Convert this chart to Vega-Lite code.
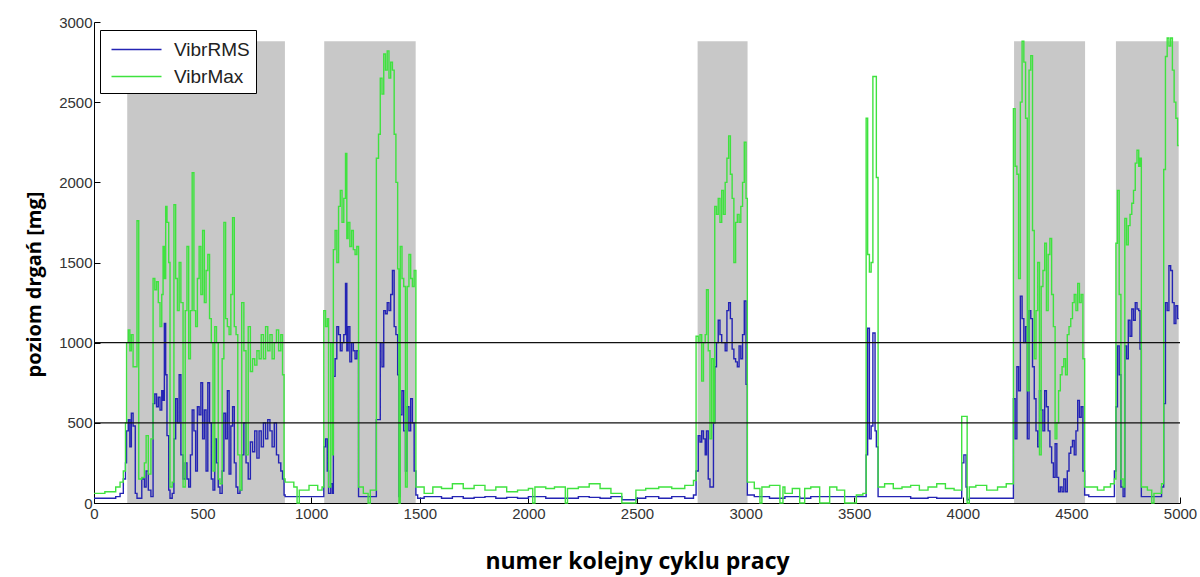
{
"$schema":"https://vega.github.io/schema/vega-lite/v6.json",
"width":1086,"height":481,
"autosize":"none",
"padding":{"left":94,"top":22,"right":20,"bottom":74},
"background":"white",
"config":{"view":{"stroke":null},"font":"Liberation Sans",
 "axis":{"grid":false,"domainColor":"#000","domainWidth":1,"tickColor":"#000","tickSize":-6,"labelFontSize":15,"labelColor":"#333","titleFont":"Open Sans","titleFontWeight":"bold","titleFontSize":20,"titleColor":"#000","format":"d"}},
"datasets":{
"bands":[{"start":153,"end":879},{"start":1060,"end":1481},{"start":2779,"end":3009},{"start":4236,"end":4563},{"start":4705,"end":4994}],
"limits":[{"level":500},{"level":1000}],
"vib":[
{"c":0,"rms":30,"max":60},{"c":50,"rms":30,"max":70},{"c":100,"rms":40,"max":100},{"c":120,"rms":60,"max":130},{"c":135,"rms":150,"max":200},{"c":145,"rms":250,"max":500},
{"c":150,"rms":450,"max":1000},{"c":158,"rms":520,"max":1080},{"c":165,"rms":350,"max":950},{"c":172,"rms":560,"max":1050},{"c":180,"rms":480,"max":850},{"c":190,"rms":60,"max":850},{"c":198,"rms":30,"max":1760},{"c":206,"rms":30,"max":150},{"c":220,"rms":150,"max":160},{"c":232,"rms":100,"max":250},{"c":240,"rms":200,"max":420},{"c":250,"rms":80,"max":180},{"c":262,"rms":40,"max":400},{"c":272,"rms":620,"max":1400},{"c":280,"rms":680,"max":1330},{"c":288,"rms":600,"max":1380},{"c":296,"rms":660,"max":1250},{"c":304,"rms":580,"max":1100},{"c":312,"rms":700,"max":1300},{"c":318,"rms":640,"max":1600},{"c":324,"rms":1120,"max":1400},{"c":330,"rms":800,"max":1850},{"c":336,"rms":420,"max":1750},{"c":344,"rms":80,"max":1500},{"c":350,"rms":30,"max":100},{"c":360,"rms":60,"max":130},{"c":368,"rms":400,"max":1860},{"c":376,"rms":650,"max":1400},{"c":384,"rms":500,"max":1200},{"c":392,"rms":800,"max":1500},{"c":400,"rms":300,"max":1250},{"c":410,"rms":150,"max":100},{"c":420,"rms":250,"max":1200},{"c":428,"rms":150,"max":1600},{"c":436,"rms":100,"max":900},{"c":444,"rms":300,"max":1200},{"c":452,"rms":580,"max":2060},{"c":460,"rms":450,"max":1200},{"c":468,"rms":200,"max":1100},{"c":476,"rms":600,"max":1400},{"c":484,"rms":550,"max":1600},{"c":492,"rms":750,"max":1300},{"c":500,"rms":400,"max":1700},{"c":508,"rms":580,"max":1250},{"c":516,"rms":200,"max":1450},{"c":524,"rms":750,"max":1550},{"c":532,"rms":500,"max":1150},{"c":540,"rms":150,"max":1000},{"c":548,"rms":80,"max":200},{"c":556,"rms":400,"max":1100},{"c":564,"rms":250,"max":1000},{"c":572,"rms":100,"max":150},{"c":580,"rms":60,"max":120},{"c":590,"rms":200,"max":900},{"c":598,"rms":560,"max":1750},{"c":606,"rms":400,"max":1150},{"c":614,"rms":700,"max":1100},{"c":622,"rms":180,"max":1050},{"c":630,"rms":480,"max":1300},{"c":638,"rms":600,"max":1780},{"c":646,"rms":250,"max":1100},{"c":654,"rms":100,"max":1050},{"c":662,"rms":60,"max":300},{"c":672,"rms":80,"max":80},{"c":680,"rms":300,"max":1250},{"c":690,"rms":500,"max":950},{"c":700,"rms":250,"max":300},{"c":710,"rms":150,"max":1100},{"c":720,"rms":380,"max":820},{"c":730,"rms":320,"max":900},{"c":740,"rms":450,"max":860},{"c":750,"rms":280,"max":950},{"c":760,"rms":450,"max":900},{"c":770,"rms":350,"max":1050},{"c":780,"rms":500,"max":900},{"c":790,"rms":400,"max":1100},{"c":800,"rms":520,"max":950},{"c":810,"rms":450,"max":1050},{"c":820,"rms":350,"max":900},{"c":830,"rms":500,"max":1000},{"c":840,"rms":300,"max":1080},{"c":850,"rms":250,"max":950},{"c":860,"rms":200,"max":1050},{"c":868,"rms":150,"max":800},{"c":875,"rms":50,"max":150},
{"c":880,"rms":40,"max":130},{"c":920,"rms":40,"max":100},{"c":935,"rms":40,"max":0},{"c":945,"rms":40,"max":80},{"c":990,"rms":40,"max":110},{"c":1030,"rms":40,"max":80},{"c":1050,"rms":40,"max":100},
{"c":1058,"rms":350,"max":1200},{"c":1066,"rms":400,"max":1100},{"c":1074,"rms":200,"max":1150},{"c":1080,"rms":60,"max":100},{"c":1090,"rms":120,"max":1000},{"c":1098,"rms":60,"max":300},{"c":1102,"rms":790,"max":1580},{"c":1110,"rms":900,"max":1700},{"c":1118,"rms":1100,"max":1500},{"c":1126,"rms":1050,"max":1850},{"c":1134,"rms":950,"max":1950},{"c":1142,"rms":1000,"max":1750},{"c":1150,"rms":1050,"max":1900},{"c":1158,"rms":1370,"max":2180},{"c":1164,"rms":950,"max":1650},{"c":1170,"rms":1100,"max":1750},{"c":1178,"rms":880,"max":1600},{"c":1186,"rms":1000,"max":1700},{"c":1194,"rms":950,"max":1580},{"c":1202,"rms":900,"max":1550},{"c":1210,"rms":950,"max":1600},{"c":1218,"rms":40,"max":100},{"c":1240,"rms":40,"max":60},{"c":1262,"rms":40,"max":0},{"c":1272,"rms":40,"max":80},{"c":1300,"rms":520,"max":2150},{"c":1310,"rms":520,"max":2300},{"c":1318,"rms":1000,"max":2650},{"c":1326,"rms":850,"max":2550},{"c":1334,"rms":1200,"max":2800},{"c":1342,"rms":1180,"max":2700},{"c":1350,"rms":1250,"max":2820},{"c":1358,"rms":1200,"max":2650},{"c":1366,"rms":1300,"max":2750},{"c":1374,"rms":1450,"max":2700},{"c":1382,"rms":1100,"max":2300},{"c":1390,"rms":1050,"max":2000},{"c":1398,"rms":800,"max":1460},{"c":1404,"rms":40,"max":0},{"c":1410,"rms":550,"max":1600},{"c":1418,"rms":700,"max":1400},{"c":1426,"rms":450,"max":1350},{"c":1434,"rms":200,"max":100},{"c":1442,"rms":600,"max":1350},{"c":1450,"rms":450,"max":1550},{"c":1458,"rms":650,"max":1400},{"c":1466,"rms":500,"max":1350},{"c":1474,"rms":200,"max":1450},{"c":1482,"rms":50,"max":100},
{"c":1490,"rms":30,"max":100},{"c":1520,"rms":40,"max":60},{"c":1560,"rms":40,"max":100},{"c":1600,"rms":30,"max":90},{"c":1650,"rms":40,"max":120},{"c":1700,"rms":30,"max":90},{"c":1750,"rms":35,"max":110},{"c":1800,"rms":40,"max":80},{"c":1850,"rms":30,"max":100},{"c":1900,"rms":35,"max":70},{"c":1950,"rms":30,"max":80},{"c":2000,"rms":40,"max":90},{"c":2020,"rms":40,"max":0},{"c":2030,"rms":40,"max":100},{"c":2080,"rms":30,"max":90},{"c":2120,"rms":30,"max":100},{"c":2170,"rms":30,"max":0},{"c":2180,"rms":30,"max":90},{"c":2230,"rms":40,"max":100},{"c":2280,"rms":35,"max":120},{"c":2330,"rms":30,"max":90},{"c":2380,"rms":40,"max":60},{"c":2430,"rms":20,"max":0},{"c":2495,"rms":30,"max":80},{"c":2540,"rms":40,"max":90},{"c":2600,"rms":30,"max":100},{"c":2660,"rms":40,"max":90},{"c":2720,"rms":30,"max":110},{"c":2760,"rms":50,"max":140},
{"c":2772,"rms":200,"max":1040},{"c":2782,"rms":420,"max":1000},{"c":2790,"rms":380,"max":1050},{"c":2798,"rms":450,"max":760},{"c":2806,"rms":400,"max":1000},{"c":2814,"rms":300,"max":1050},{"c":2820,"rms":450,"max":1330},{"c":2828,"rms":150,"max":950},{"c":2836,"rms":100,"max":400},{"c":2844,"rms":100,"max":900},{"c":2852,"rms":500,"max":500},{"c":2858,"rms":850,"max":1850},{"c":2866,"rms":1000,"max":1800},{"c":2874,"rms":1140,"max":1900},{"c":2882,"rms":1050,"max":1750},{"c":2890,"rms":1000,"max":1950},{"c":2898,"rms":1000,"max":1800},{"c":2906,"rms":950,"max":2000},{"c":2914,"rms":1200,"max":2150},{"c":2922,"rms":1250,"max":2290},{"c":2930,"rms":1150,"max":2050},{"c":2938,"rms":960,"max":1900},{"c":2946,"rms":900,"max":1500},{"c":2954,"rms":880,"max":1750},{"c":2962,"rms":850,"max":1800},{"c":2970,"rms":980,"max":1750},{"c":2978,"rms":900,"max":1850},{"c":2986,"rms":1050,"max":2000},{"c":2994,"rms":1260,"max":2250},{"c":3002,"rms":740,"max":1900},{"c":3008,"rms":50,"max":130},
{"c":3040,"rms":40,"max":90},{"c":3066,"rms":40,"max":0},{"c":3075,"rms":40,"max":100},{"c":3110,"rms":30,"max":110},{"c":3158,"rms":30,"max":0},{"c":3172,"rms":30,"max":100},{"c":3181,"rms":40,"max":60},{"c":3215,"rms":40,"max":90},{"c":3249,"rms":30,"max":0},{"c":3272,"rms":30,"max":90},{"c":3300,"rms":40,"max":100},{"c":3341,"rms":40,"max":0},{"c":3387,"rms":40,"max":100},{"c":3420,"rms":40,"max":80},{"c":3456,"rms":40,"max":0},{"c":3510,"rms":40,"max":50},{"c":3540,"rms":40,"max":60},
{"c":3555,"rms":300,"max":2400},{"c":3562,"rms":1090,"max":1550},{"c":3570,"rms":400,"max":1440},{"c":3578,"rms":480,"max":1500},{"c":3586,"rms":1060,"max":2660},{"c":3596,"rms":450,"max":2660},{"c":3602,"rms":350,"max":2030},{"c":3610,"rms":40,"max":100},
{"c":3640,"rms":40,"max":120},{"c":3680,"rms":40,"max":90},{"c":3720,"rms":40,"max":100},{"c":3760,"rms":30,"max":110},{"c":3800,"rms":30,"max":80},{"c":3840,"rms":35,"max":100},{"c":3880,"rms":30,"max":120},{"c":3920,"rms":30,"max":90},{"c":3960,"rms":30,"max":80},{"c":3995,"rms":250,"max":540},{"c":4005,"rms":300,"max":540},{"c":4015,"rms":100,"max":540},{"c":4020,"rms":20,"max":0},{"c":4030,"rms":30,"max":100},{"c":4060,"rms":30,"max":110},{"c":4110,"rms":30,"max":80},{"c":4160,"rms":30,"max":100},{"c":4200,"rms":30,"max":120},
{"c":4233,"rms":650,"max":2460},{"c":4241,"rms":400,"max":2100},{"c":4249,"rms":850,"max":2050},{"c":4257,"rms":700,"max":1400},{"c":4265,"rms":1290,"max":2500},{"c":4273,"rms":1150,"max":2880},{"c":4281,"rms":1000,"max":2750},{"c":4289,"rms":1100,"max":2400},{"c":4297,"rms":400,"max":700},{"c":4305,"rms":1200,"max":2700},{"c":4313,"rms":1150,"max":2790},{"c":4321,"rms":850,"max":1700},{"c":4329,"rms":650,"max":900},{"c":4337,"rms":450,"max":1200},{"c":4345,"rms":350,"max":1500},{"c":4353,"rms":700,"max":300},{"c":4361,"rms":580,"max":1350},{"c":4369,"rms":450,"max":1450},{"c":4377,"rms":700,"max":1620},{"c":4385,"rms":600,"max":1200},{"c":4393,"rms":450,"max":1550},{"c":4401,"rms":350,"max":1650},{"c":4409,"rms":250,"max":1300},{"c":4417,"rms":160,"max":1100},{"c":4425,"rms":370,"max":400},{"c":4433,"rms":160,"max":500},{"c":4441,"rms":70,"max":700},{"c":4449,"rms":100,"max":800},{"c":4457,"rms":70,"max":850},{"c":4465,"rms":150,"max":900},{"c":4473,"rms":70,"max":800},{"c":4481,"rms":200,"max":1050},{"c":4489,"rms":310,"max":1100},{"c":4497,"rms":350,"max":1150},{"c":4505,"rms":390,"max":1250},{"c":4513,"rms":300,"max":1300},{"c":4521,"rms":450,"max":1200},{"c":4529,"rms":640,"max":1370},{"c":4537,"rms":535,"max":1250},{"c":4545,"rms":600,"max":1300},{"c":4553,"rms":200,"max":900},{"c":4561,"rms":50,"max":100},
{"c":4580,"rms":40,"max":100},{"c":4620,"rms":40,"max":80},{"c":4650,"rms":40,"max":100},{"c":4680,"rms":40,"max":120},{"c":4698,"rms":200,"max":150},
{"c":4705,"rms":600,"max":1620},{"c":4712,"rms":980,"max":1950},{"c":4720,"rms":800,"max":1300},{"c":4728,"rms":100,"max":150},{"c":4738,"rms":40,"max":100},{"c":4746,"rms":980,"max":1775},{"c":4754,"rms":900,"max":1610},{"c":4762,"rms":1140,"max":1730},{"c":4770,"rms":1040,"max":1800},{"c":4778,"rms":1210,"max":1870},{"c":4786,"rms":1140,"max":1950},{"c":4794,"rms":1250,"max":2120},{"c":4802,"rms":1210,"max":2200},{"c":4810,"rms":1200,"max":2100},{"c":4816,"rms":960,"max":2150},{"c":4822,"rms":40,"max":100},{"c":4850,"rms":40,"max":80},{"c":4870,"rms":40,"max":0},{"c":4880,"rms":40,"max":60},{"c":4915,"rms":100,"max":120},{"c":4925,"rms":620,"max":2080},{"c":4933,"rms":1250,"max":2785},{"c":4941,"rms":1200,"max":2900},{"c":4949,"rms":1480,"max":2850},{"c":4957,"rms":1450,"max":2900},{"c":4965,"rms":1250,"max":2700},{"c":4973,"rms":1120,"max":2500},{"c":4981,"rms":1230,"max":2400},{"c":4989,"rms":1150,"max":2230},{"c":4994,"rms":1150,"max":2230}
]},
"layer":[
{"data":{"name":"bands"},"mark":{"type":"rect","color":"#c8c8c8"},
 "encoding":{
  "x":{"field":"start","type":"quantitative","scale":{"domain":[0,5000],"nice":false,"zero":false},"axis":{"values":[0,500,1000,1500,2000,2500,3000,3500,4000,4500,5000],"title":"numer kolejny cyklu pracy","titleFontSize":23,"labelPadding":9,"titlePadding":29,"labelFlush":false}},
  "x2":{"field":"end"},
  "y":{"datum":0,"type":"quantitative","scale":{"domain":[0,3000],"nice":false},"axis":{"values":[0,500,1000,1500,2000,2500,3000],"title":"poziom drgań [mg]","labelPadding":8,"titlePadding":14,"titleY":262}},
  "y2":{"datum":2880}}},
{"data":{"name":"vib"},"mark":{"type":"line","interpolate":"step-after","strokeWidth":1.4},
 "encoding":{"x":{"field":"c","type":"quantitative"},"y":{"field":"rms","type":"quantitative"},
  "color":{"datum":"VibrRMS","type":"nominal","scale":{"domain":["VibrRMS","VibrMax"],"range":["#2424b4","#3fe23f"]},
   "legend":{"orient":"none","legendX":6,"legendY":8,"title":null,"fillColor":"white","strokeColor":"#000","padding":6,"symbolType":"M-2,0H2","symbolSize":625,"symbolOffset":17,"symbolStrokeWidth":1.5,"labelFontSize":19,"labelColor":"#222","rowPadding":3,"labelOffset":24}}}},
{"data":{"name":"vib"},"mark":{"type":"line","interpolate":"step-after","strokeWidth":1.4},
 "encoding":{"x":{"field":"c","type":"quantitative"},"y":{"field":"max","type":"quantitative"},"color":{"datum":"VibrMax","type":"nominal"}}},
{"data":{"name":"limits"},"mark":{"type":"rule","color":"#111","strokeWidth":1.3},
 "encoding":{"y":{"field":"level","type":"quantitative"}}}
]
}
